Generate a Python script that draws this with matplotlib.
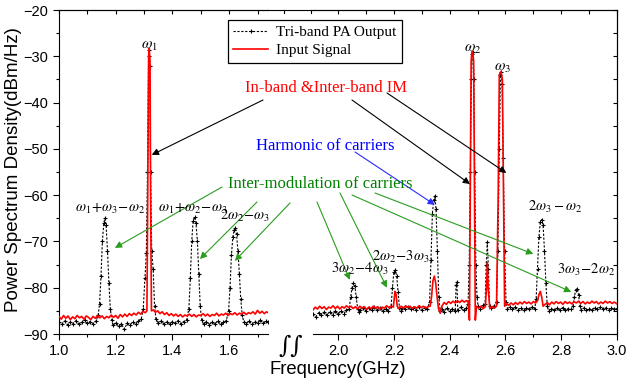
import matplotlib
matplotlib.use("Agg")
import matplotlib.pyplot as plt
from matplotlib.lines import Line2D
from matplotlib.ticker import MultipleLocator, FormatStrFormatter

plt.rcParams['font.family'] = ['Liberation Sans', 'DejaVu Sans']
plt.rcParams['mathtext.fontset'] = 'stix'

# ---- data (GHz, dBm/Hz) ----
left_pa_f = [1.000, 1.010, 1.020, 1.030, 1.040, 1.050, 1.060, 1.070, 1.080, 1.090,
             1.100, 1.110, 1.120, 1.130, 1.138, 1.143, 1.148, 1.153, 1.158, 1.162,
             1.166, 1.171, 1.176, 1.181, 1.186, 1.190, 1.200, 1.210, 1.220, 1.230,
             1.240, 1.250, 1.260, 1.270, 1.280, 1.290, 1.297, 1.303, 1.308, 1.312,
             1.316, 1.318, 1.320, 1.323, 1.327, 1.332, 1.337, 1.342, 1.350, 1.360,
             1.370, 1.380, 1.390, 1.400, 1.410, 1.420, 1.430, 1.440, 1.450, 1.458,
             1.463, 1.468, 1.473, 1.478, 1.483, 1.488, 1.493, 1.498, 1.503, 1.510,
             1.520, 1.530, 1.540, 1.550, 1.560, 1.570, 1.580, 1.590, 1.598, 1.603,
             1.608, 1.613, 1.618, 1.622, 1.626, 1.631, 1.636, 1.641, 1.646, 1.652,
             1.660, 1.670, 1.680, 1.690, 1.700, 1.710, 1.720, 1.730, 1.737]
left_pa_db = [-87.3, -87.9, -87.2, -88.0, -87.4, -87.8, -87.1, -87.9, -87.5, -87.0,
              -87.7, -87.3, -87.9, -87.2, -86.0, -83.5, -77.5, -70.0, -66.0, -65.0,
              -66.5, -72.0, -79.0, -84.5, -87.0, -88.1, -87.6, -88.3, -87.8, -89.0,
              -87.7, -88.1, -87.4, -87.9, -87.2, -86.8, -84.5, -78.0, -72.5, -55.0,
              -30.0, -28.6, -32.0, -55.0, -72.0, -76.0, -84.0, -86.8, -87.6, -87.2,
              -87.8, -87.4, -87.9, -87.3, -87.7, -87.1, -87.8, -87.3, -87.0, -84.5,
              -78.0, -70.0, -65.5, -64.7, -66.0, -70.0, -77.0, -84.0, -87.0, -87.9,
              -87.3, -88.0, -87.4, -87.8, -87.2, -87.9, -87.5, -87.1, -85.0, -80.0,
              -73.0, -69.0, -67.5, -67.0, -68.5, -72.0, -77.0, -82.5, -86.0, -87.4,
              -87.8, -87.2, -87.9, -87.3, -87.6, -87.0, -87.7, -87.2, -87.5]

left_in_f = [1.000, 1.008, 1.016, 1.024, 1.032, 1.040, 1.048, 1.056, 1.064, 1.072,
             1.080, 1.088, 1.096, 1.104, 1.112, 1.120, 1.128, 1.136, 1.144, 1.152,
             1.160, 1.168, 1.176, 1.184, 1.192, 1.200, 1.208, 1.216, 1.224, 1.232,
             1.240, 1.248, 1.256, 1.264, 1.272, 1.280, 1.288, 1.296, 1.304, 1.310,
             1.313, 1.316, 1.318, 1.321, 1.323, 1.326, 1.332, 1.340, 1.348, 1.356,
             1.364, 1.372, 1.380, 1.388, 1.396, 1.404, 1.412, 1.420, 1.428, 1.436,
             1.444, 1.452, 1.460, 1.468, 1.476, 1.484, 1.492, 1.500, 1.508, 1.516,
             1.524, 1.532, 1.540, 1.548, 1.556, 1.564, 1.572, 1.580, 1.588, 1.596,
             1.604, 1.612, 1.620, 1.628, 1.636, 1.644, 1.652, 1.660, 1.668, 1.676,
             1.684, 1.692, 1.700, 1.708, 1.716, 1.724, 1.732, 1.737]
left_in_db = [-86.2, -86.8, -86.0, -86.6, -86.1, -86.9, -86.3, -86.7, -86.0, -86.5,
              -86.2, -86.8, -86.1, -86.4, -86.9, -86.2, -86.6, -86.0, -86.5, -86.1,
              -86.7, -86.2, -86.5, -85.9, -86.4, -86.0, -86.6, -85.8, -86.3, -85.7,
              -86.2, -85.6, -86.0, -85.5, -85.9, -85.3, -85.7, -85.1, -85.4, -85.0,
              -60.0, -30.0, -28.3, -31.0, -60.0, -85.0, -84.8, -85.3, -85.0, -85.6,
              -85.2, -85.8, -85.4, -86.0, -85.6, -86.1, -85.7, -86.2, -85.8, -86.3,
              -85.9, -86.1, -85.7, -86.2, -85.8, -86.3, -85.9, -86.0, -85.6, -86.1,
              -85.7, -86.2, -85.8, -86.0, -85.5, -86.1, -85.7, -85.9, -85.5, -86.0,
              -85.6, -85.8, -85.4, -85.9, -85.5, -85.7, -85.3, -85.8, -85.4, -85.6,
              -85.2, -85.7, -84.9, -85.5, -85.1, -85.6, -85.2, -85.4]

right_pa_f = [1.910, 1.920, 1.930, 1.940, 1.950, 1.960, 1.970, 1.980, 1.990, 2.000,
              2.010, 2.020, 2.030, 2.040, 2.045, 2.050, 2.055, 2.060, 2.065, 2.070,
              2.075, 2.080, 2.090, 2.100, 2.110, 2.120, 2.130, 2.140, 2.150, 2.160,
              2.170, 2.180, 2.190, 2.195, 2.200, 2.205, 2.210, 2.215, 2.220, 2.225,
              2.230, 2.240, 2.250, 2.260, 2.270, 2.280, 2.290, 2.300, 2.310, 2.320,
              2.328, 2.333, 2.338, 2.343, 2.347, 2.351, 2.356, 2.361, 2.366, 2.372,
              2.380, 2.390, 2.400, 2.410, 2.420, 2.423, 2.426, 2.429, 2.440, 2.450,
              2.460, 2.466, 2.470, 2.474, 2.478, 2.481, 2.484, 2.487, 2.490, 2.494,
              2.498, 2.502, 2.510, 2.520, 2.527, 2.531, 2.535, 2.539, 2.543, 2.550,
              2.560, 2.568, 2.573, 2.578, 2.582, 2.585, 2.588, 2.592, 2.597, 2.602,
              2.607, 2.615, 2.625, 2.635, 2.645, 2.655, 2.665, 2.675, 2.685, 2.695,
              2.705, 2.710, 2.715, 2.720, 2.725, 2.730, 2.735, 2.740, 2.745, 2.750,
              2.755, 2.765, 2.775, 2.785, 2.795, 2.805, 2.815, 2.825, 2.835, 2.842,
              2.847, 2.852, 2.857, 2.862, 2.867, 2.872, 2.880, 2.890, 2.900, 2.910,
              2.920, 2.930, 2.940, 2.950, 2.960, 2.970, 2.980, 2.990, 3.000]
right_pa_db = [-85.6, -86.3, -85.4, -86.0, -85.3, -85.9, -85.2, -85.8, -85.1, -85.7,
               -85.0, -85.6, -84.9, -84.5, -82.0, -80.0, -79.0, -79.6, -82.0, -84.5,
               -85.2, -84.8, -84.4, -85.0, -84.3, -84.9, -84.2, -84.8, -84.4, -85.0,
               -84.6, -85.1, -84.0, -80.0, -76.5, -76.2, -77.5, -81.0, -84.3, -85.0,
               -84.4, -84.6, -84.1, -84.7, -84.3, -84.8, -84.2, -84.9, -84.4, -84.7,
               -83.0, -74.0, -64.0, -61.0, -60.2, -63.0, -72.0, -82.0, -85.0, -84.6,
               -85.2, -84.4, -85.0, -84.5, -85.1, -79.5, -78.8, -84.8, -84.2, -84.9,
               -84.4, -83.5, -75.0, -55.0, -35.0, -29.5, -29.0, -35.0, -55.0, -75.0,
               -82.0, -84.0, -84.5, -83.8, -83.5, -75.0, -70.2, -76.0, -84.0, -84.3,
               -83.9, -83.0, -72.0, -50.0, -34.0, -33.5, -36.0, -52.0, -72.0, -83.0,
               -84.5, -84.1, -84.7, -84.2, -84.8, -84.3, -84.9, -84.4, -84.7, -84.2,
               -84.5, -82.5, -76.0, -69.0, -65.8, -65.3, -66.5, -72.0, -79.0, -84.0,
               -85.0, -84.5, -84.9, -84.4, -84.8, -84.3, -84.9, -84.5, -84.7, -84.0,
               -82.0, -80.5, -80.2, -81.5, -84.0, -84.8, -84.4, -84.9, -84.5, -84.8,
               -84.3, -84.7, -84.2, -84.6, -84.3, -84.8, -84.4, -84.7, -84.5]

right_in_f = [1.910, 1.918, 1.926, 1.934, 1.942, 1.950, 1.958, 1.966, 1.974, 1.982,
              1.990, 1.998, 2.006, 2.014, 2.022, 2.030, 2.038, 2.046, 2.054, 2.062,
              2.070, 2.078, 2.086, 2.094, 2.102, 2.110, 2.118, 2.126, 2.134, 2.142,
              2.150, 2.158, 2.166, 2.174, 2.182, 2.190, 2.198, 2.204, 2.208, 2.212,
              2.218, 2.226, 2.234, 2.242, 2.250, 2.258, 2.266, 2.274, 2.282, 2.290,
              2.298, 2.306, 2.314, 2.322, 2.330, 2.335, 2.340, 2.345, 2.350, 2.355,
              2.360, 2.366, 2.372, 2.380, 2.388, 2.396, 2.404, 2.412, 2.420, 2.428,
              2.436, 2.444, 2.452, 2.460, 2.466, 2.471, 2.474, 2.477, 2.480, 2.483,
              2.486, 2.489, 2.492, 2.496, 2.504, 2.512, 2.520, 2.528, 2.532, 2.535,
              2.538, 2.544, 2.552, 2.560, 2.568, 2.574, 2.578, 2.584, 2.589, 2.593,
              2.597, 2.604, 2.612, 2.620, 2.628, 2.636, 2.644, 2.652, 2.660, 2.668,
              2.676, 2.684, 2.692, 2.700, 2.708, 2.715, 2.720, 2.725, 2.730, 2.735,
              2.742, 2.750, 2.758, 2.766, 2.774, 2.782, 2.790, 2.798, 2.806, 2.814,
              2.822, 2.830, 2.838, 2.846, 2.854, 2.862, 2.870, 2.878, 2.886, 2.894,
              2.902, 2.910, 2.918, 2.926, 2.934, 2.942, 2.950, 2.958, 2.966, 2.974,
              2.982, 2.990, 3.000]
right_in_db = [-84.8, -84.2, -84.6, -84.0, -84.5, -84.1, -84.7, -84.2, -84.4, -83.9,
               -84.5, -84.0, -84.6, -84.1, -84.4, -83.9, -84.3, -84.0, -84.5, -84.1,
               -84.6, -84.0, -84.4, -84.1, -84.7, -84.2, -84.5, -84.0, -84.4, -84.1,
               -84.6, -84.2, -84.4, -83.9, -84.3, -84.0, -84.2, -80.8, -81.5, -84.0,
               -84.5, -84.0, -84.4, -83.9, -84.3, -84.0, -84.5, -84.1, -84.4, -83.9,
               -84.3, -84.0, -84.4, -84.1, -84.0, -82.0, -78.5, -77.5, -79.0, -82.0,
               -84.5, -85.5, -84.0, -83.2, -83.6, -83.0, -83.4, -82.9, -83.3, -82.8,
               -83.2, -82.7, -83.1, -82.8, -83.0, -87.0, -60.0, -31.0, -29.0, -29.3,
               -31.0, -60.0, -87.0, -84.0, -84.4, -84.0, -84.5, -84.1, -80.0, -74.6,
               -80.0, -84.5, -84.1, -84.4, -84.0, -60.0, -34.0, -33.3, -35.0, -60.0,
               -84.0, -83.4, -83.8, -83.3, -83.7, -83.2, -83.6, -83.1, -83.5, -83.0,
               -83.4, -83.1, -83.5, -83.0, -83.3, -82.8, -81.5, -80.8, -82.0, -84.0,
               -83.6, -83.2, -83.7, -83.1, -83.5, -83.0, -83.4, -83.1, -83.6, -83.0,
               -83.4, -83.1, -83.5, -83.0, -83.3, -82.9, -83.4, -83.0, -83.5, -83.1,
               -83.4, -82.9, -83.3, -83.0, -83.5, -83.1, -83.4, -82.9, -83.3, -83.0,
               -83.4, -83.1, -83.5]

# peak labels: (panel, freq, dB at label bottom, text, fontsize)
peak_labels = [
    ('L', 1.32, -29.3, r'$\omega_1$', 11),
    ('R', 2.484, -30.0, r'$\omega_2$', 11),
    ('R', 2.590, -34.0, r'$\omega_3$', 11),
    ('L', 1.179, -64.5, r'$\omega_1\!+\!\omega_3\!-\!\omega_2$', 10.5),
    ('L', 1.470, -64.5, r'$\omega_1\!+\!\omega_2\!-\!\omega_3$', 10.5),
    ('L', 1.655, -66.3, r'$2\omega_2\!-\!\omega_3$', 10.5),
    ('R', 2.078, -77.6, r'$3\omega_2\!-\!4\omega_3$', 10.5),
    ('R', 2.225, -75.0, r'$2\omega_2\!-\!3\omega_3$', 10.5),
    ('R', 2.778, -64.2, r'$2\omega_3-\omega_2$', 10.5),
    ('R', 2.889, -77.9, r'$3\omega_3\!-\!2\omega_2$', 10.5),
]

# arrows: (panel, tip freq, tip dB, tail x px, tail y px, colour)
arrows = [
    ('L', 1.327, -51.3, 263, 100, 'black'),
    ('R', 2.473, -57.6, 352, 100, 'black'),
    ('R', 2.603, -55.2, 387, 93, 'black'),
    ('R', 2.347, -62.1, 355, 152, 'blue'),
    ('L', 1.197, -71.4, 222, 187, 'green'),
    ('L', 1.497, -73.8, 257, 202, 'green'),
    ('L', 1.620, -74.2, 290, 203, 'green'),
    ('R', 2.042, -78.3, 317, 202, 'green'),
    ('R', 2.175, -80.0, 340, 193, 'green'),
    ('R', 2.836, -80.9, 352, 195, 'green'),
    ('R', 2.700, -72.7, 375, 193, 'green'),
]

W, H = 628, 385
fig = plt.figure(figsize=(W / 100, H / 100), dpi=100)
axL = fig.add_axes([59 / W, 51 / H, (268 - 59) / W, 324 / H])
axR = fig.add_axes([313 / W, 51 / H, (617 - 313) / W, 324 / H])

pa_style = dict(color='black', lw=0.8, ls=(0, (2, 1.5)), marker='+', ms=3, mew=0.8)
in_style = dict(color='red', lw=1.2)

axL.plot(left_pa_f, left_pa_db, zorder=2, **pa_style)
axL.plot(left_in_f, left_in_db, zorder=3, **in_style)
axR.plot(right_pa_f, right_pa_db, zorder=2, **pa_style)
axR.plot(right_in_f, right_in_db, zorder=3, **in_style)

axL.set_xlim(1.0, 1.737)
axR.set_xlim(1.91, 3.0)
for ax in (axL, axR):
    ax.set_ylim(-90, -20)
    ax.xaxis.set_major_locator(MultipleLocator(0.2))
    ax.xaxis.set_minor_locator(MultipleLocator(0.1))
    ax.yaxis.set_major_locator(MultipleLocator(10))
    ax.yaxis.set_minor_locator(MultipleLocator(5))
    ax.tick_params(which='major', length=4, width=0.8, labelsize=10.5, direction='out')
    ax.tick_params(which='minor', length=2.5, width=0.8, direction='out')
    ax.xaxis.set_major_formatter(FormatStrFormatter('%.1f'))
    top = ax.secondary_xaxis('top')
    top.xaxis.set_major_locator(MultipleLocator(0.1))
    top.tick_params(direction='in', length=3, width=0.8, labeltop=False)

axL.spines['right'].set_visible(False)
axR.spines['left'].set_visible(False)
axR.tick_params(axis='y', which='both', left=False, labelleft=False)
rsec = axR.secondary_yaxis('right')
rsec.yaxis.set_major_locator(MultipleLocator(5))
rsec.tick_params(direction='in', length=3, width=0.8, labelright=False)

# continuous top frame across the break, its ticks, and the break mark
fig.add_artist(Line2D([268 / W, 313 / W], [375 / H, 375 / H], color='black', lw=0.8))
for gx in (284, 311):
    fig.add_artist(Line2D([gx / W, gx / W], [375 / H, 372 / H], color='black', lw=0.8))
fig.text(291 / W, 1 - 346 / H, '\u222b\u222b', ha='center', va='center',
         fontsize=17, family=['DejaVu Serif', 'DejaVu Sans'])

fig.text(14 / W, 1 - 170 / H, 'Power Spectrum Density(dBm/Hz)', rotation=90,
         ha='center', va='center', fontsize=13.5)
fig.text(338 / W, 1 - 370 / H, 'Frequency(GHz)', ha='center', va='center', fontsize=13.3)

# legend
pa_handle = Line2D([], [], markevery=[1], **pa_style)
in_handle = Line2D([], [], **in_style)
leg = fig.legend([pa_handle, in_handle], ['Tri-band PA Output', 'Input Signal'],
                 loc='upper left', bbox_to_anchor=(228 / W, 1 - 20 / H),
                 prop={'family': 'Liberation Serif', 'size': 11}, frameon=True,
                 fancybox=False, edgecolor='black', framealpha=1, handlelength=2.3,
                 borderpad=0.35, labelspacing=0.3, handletextpad=0.5, borderaxespad=0)
leg.get_frame().set_linewidth(0.9)
leg.set_zorder(10)

serif = ['Liberation Serif', 'DejaVu Serif']
fig.text(326 / W, 1 - 88 / H, 'In-band &Inter-band IM', color='red', ha='center', va='center',
         fontsize=12, family=serif)
fig.text(325 / W, 1 - 146 / H, 'Harmonic of carriers', color='blue', ha='center', va='center',
         fontsize=12, family=serif)
fig.text(320 / W, 1 - 184 / H, 'Inter-modulation of carriers', color='green', ha='center',
         va='center', fontsize=12, family=serif)

for panel, f, db, txt, fs in peak_labels:
    ax = axL if panel == 'L' else axR
    ax.text(f, db, txt, ha='center', va='bottom', fontsize=fs, clip_on=False, zorder=5)

colours = {'green': '#2a9d1f', 'blue': '#2b2bff', 'black': 'black'}
for panel, f, db, tx, ty, c in arrows:
    ax = axL if panel == 'L' else axR
    ax.annotate('', xy=(f, db), xycoords='data',
                xytext=(tx / W, 1 - ty / H), textcoords='figure fraction',
                arrowprops=dict(arrowstyle='-|>', color=colours[c], lw=0.8,
                                mutation_scale=10, shrinkA=0, shrinkB=0),
                annotation_clip=False)

fig.savefig('out.png', dpi=100)
